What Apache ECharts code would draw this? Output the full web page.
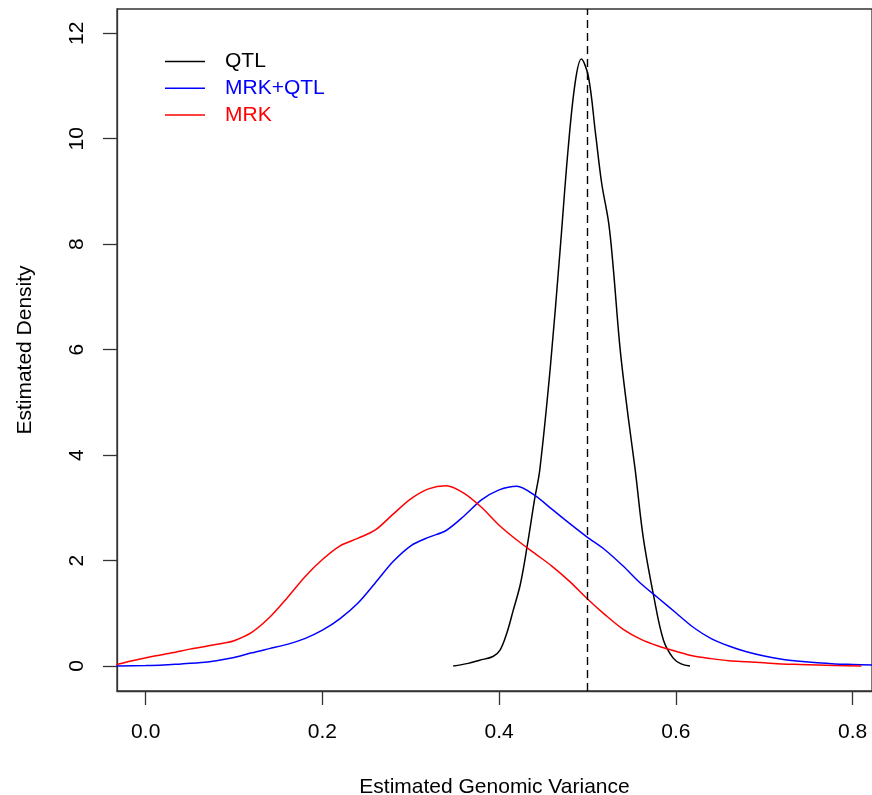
<!DOCTYPE html>
<html>
<head>
<meta charset="utf-8">
<script src="https://cdn.jsdelivr.net/npm/echarts@6/dist/echarts.min.js"></script>
<style>html,body{margin:0;padding:0;background:#fff}#c{width:872px;height:795px}</style>
</head>
<body>
<div id="c"></div>
<script>
// Tick labels
const xTicks = [0.0, 0.2, 0.4, 0.6, 0.8];
const yTicks = [0, 2, 4, 6, 8, 10, 12];
const trueVariance = 0.5;

// QTL (black)
const qtlX = [0.348, 0.365, 0.378, 0.393, 0.401, 0.409, 0.416, 0.424, 0.432, 0.440, 0.446, 0.458, 0.469, 0.478, 0.486, 0.493, 0.501, 0.509, 0.516, 0.524, 0.529, 0.537, 0.546, 0.554, 0.563, 0.575, 0.586, 0.597, 0.606, 0.616];
const qtlY = [0.0, 0.05, 0.11, 0.18, 0.30, 0.64, 1.06, 1.55, 2.30, 3.15, 3.72, 5.68, 7.89, 9.79, 11.06, 11.51, 11.18, 10.11, 9.16, 8.40, 7.58, 6.00, 4.73, 3.72, 2.45, 1.32, 0.49, 0.15, 0.04, 0.0];

// MRK+QTL (blue)
const mqX = [-0.033, 0.0, 0.02, 0.04, 0.06, 0.08, 0.10, 0.12, 0.14, 0.16, 0.18, 0.20, 0.22, 0.24, 0.26, 0.28, 0.30, 0.32, 0.34, 0.36, 0.38, 0.40, 0.42, 0.44, 0.46, 0.48, 0.50, 0.52, 0.54, 0.56, 0.58, 0.60, 0.62, 0.64, 0.66, 0.68, 0.70, 0.72, 0.74, 0.76, 0.78, 0.80, 0.822];
const mqY = [0.0, 0.01, 0.02, 0.04, 0.06, 0.10, 0.16, 0.25, 0.33, 0.41, 0.52, 0.68, 0.90, 1.19, 1.58, 1.98, 2.28, 2.44, 2.57, 2.84, 3.15, 3.34, 3.41, 3.24, 2.97, 2.70, 2.44, 2.20, 1.90, 1.57, 1.29, 1.01, 0.73, 0.52, 0.38, 0.27, 0.19, 0.13, 0.09, 0.06, 0.04, 0.03, 0.02];

// MRK (red)
const mrkX = [-0.033, -0.01, 0.01, 0.03, 0.05, 0.07, 0.09, 0.10, 0.12, 0.14, 0.16, 0.18, 0.20, 0.22, 0.24, 0.26, 0.28, 0.30, 0.32, 0.34, 0.36, 0.38, 0.40, 0.42, 0.44, 0.46, 0.48, 0.50, 0.52, 0.54, 0.56, 0.58, 0.60, 0.62, 0.64, 0.66, 0.68, 0.70, 0.72, 0.74, 0.76, 0.78, 0.81];
const mrkY = [0.03, 0.12, 0.19, 0.25, 0.32, 0.38, 0.44, 0.48, 0.64, 0.92, 1.29, 1.69, 2.02, 2.28, 2.42, 2.58, 2.88, 3.17, 3.36, 3.42, 3.28, 3.01, 2.67, 2.39, 2.14, 1.89, 1.60, 1.27, 0.97, 0.70, 0.51, 0.38, 0.28, 0.19, 0.14, 0.10, 0.08, 0.06, 0.04, 0.03, 0.02, 0.01, 0.0];

const zip = (xs, ys) => xs.map((x, i) => [x, ys[i]]);
const FONT = '"Liberation Sans", Arial, sans-serif';
const AX = '#333';

const chart = echarts.init(document.getElementById('c'), null, {renderer: 'canvas'});
chart.setOption({
  animation: false,
  backgroundColor: '#fff',
  textStyle: {fontFamily: FONT},
  grid: {left: 117, top: 9, width: 755, height: 682, show: true, borderColor: AX, borderWidth: 1.3,
         backgroundColor: 'transparent', containLabel: false, outerBoundsMode: 'none'},
  legend: {
    orient: 'vertical', left: 165, top: 51, padding: 0, itemWidth: 40, itemHeight: 1.5, itemGap: 5.7,
    icon: 'rect',
    textStyle: {fontSize: 21, lineHeight: 21, fontFamily: FONT, padding: [0, 0, 0, 15]},
    data: [
      {name: 'QTL', textStyle: {color: '#000'}},
      {name: 'MRK+QTL', textStyle: {color: '#0000ff'}},
      {name: 'MRK', textStyle: {color: '#ff0000'}}
    ]
  },
  xAxis: {
    type: 'value', min: -0.0325, max: 0.822,
    name: 'Estimated Genomic Variance', nameLocation: 'middle', nameGap: 85.5,
    nameTextStyle: {fontSize: 21, color: '#000', fontFamily: FONT},
    axisLine: {show: true, onZero: false, lineStyle: {color: AX, width: 1.3}},
    axisTick: {show: true, inside: false, length: 14, customValues: xTicks, lineStyle: {color: AX, width: 1.3}},
    axisLabel: {customValues: xTicks, margin: 31, fontSize: 21, color: '#000', fontFamily: FONT, formatter: v => v.toFixed(1)},
    splitLine: {show: false}
  },
  yAxis: {
    type: 'value', min: -0.474, max: 12.46,
    name: 'Estimated Density', nameLocation: 'middle', nameGap: 81,
    nameTextStyle: {fontSize: 21, color: '#000', fontFamily: FONT},
    axisLine: {show: true, onZero: false, lineStyle: {color: AX, width: 1.3}},
    axisTick: {show: true, inside: false, length: 14, customValues: yTicks, lineStyle: {color: AX, width: 1.3}},
    axisLabel: {customValues: yTicks, margin: 29, rotate: 90, fontSize: 21, color: '#000', fontFamily: FONT},
    splitLine: {show: false}
  },
  series: [
    {
      name: 'QTL', type: 'line', data: zip(qtlX, qtlY), smooth: 0.35, symbol: 'none',
      lineStyle: {color: '#000', width: 1.5}, itemStyle: {color: '#000'},
      markLine: {
        silent: true, symbol: 'none', label: {show: false},
        lineStyle: {color: '#000', width: 1.4, type: [8, 5]},
        data: [{xAxis: trueVariance}]
      }
    },
    {
      name: 'MRK+QTL', type: 'line', data: zip(mqX, mqY), smooth: 0.3, symbol: 'none',
      lineStyle: {color: '#0000ff', width: 1.5}, itemStyle: {color: '#0000ff'}
    },
    {
      name: 'MRK', type: 'line', data: zip(mrkX, mrkY), smooth: 0.3, symbol: 'none',
      lineStyle: {color: '#ff0000', width: 1.5}, itemStyle: {color: '#ff0000'}
    }
  ]
});
</script>
</body>
</html>
